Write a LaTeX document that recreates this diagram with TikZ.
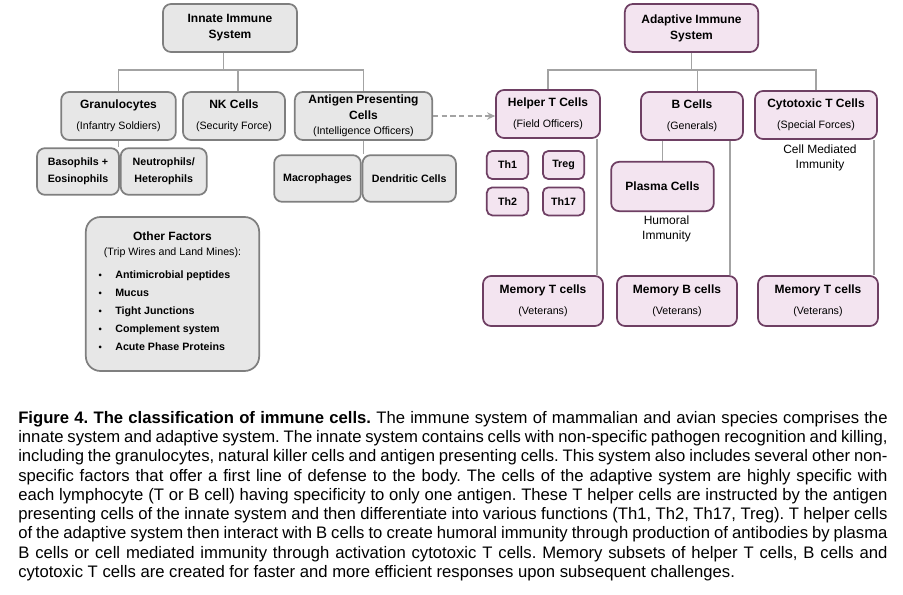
\documentclass[tikz,border=0pt]{standalone}
\usepackage{fontspec}
\setmainfont{Liberation Sans}
\usepackage{xcolor}
\usepackage{tikz}
\usetikzlibrary{shapes,arrows.meta,positioning,calc}

\definecolor{innfill}{HTML}{E7E7E7}
\definecolor{innline}{HTML}{7F7F7F}
\definecolor{adafill}{HTML}{F3E4F0}
\definecolor{adaline}{HTML}{6E3F63}
\definecolor{linkgray}{HTML}{A3A3A3}
\newcommand{\subtxt}[1]{{\fontsize{8}{10}\selectfont\mdseries #1}}

\begin{document}
\begin{tikzpicture}[x=0.75pt, y=-0.75pt, >={Stealth[length=6pt,width=5.5pt]}]
    \tikzstyle{innbox} = [rectangle, rounded corners=6pt, draw=innline, fill=innfill, line width=1.3pt, align=center, inner sep=1pt, font=\bfseries\fontsize{9}{12}\selectfont]
    \tikzstyle{adabox} = [innbox, draw=adaline, fill=adafill]
    \tikzstyle{thbox} = [adabox, rounded corners=4pt, minimum width=31pt, minimum height=21pt, font=\bfseries\fontsize{8}{10}\selectfont]
    \tikzstyle{note} = [align=center, font=\fontsize{9}{11.5}\selectfont]
    \tikzstyle{link} = [draw=linkgray, line width=1.2pt]
    \tikzstyle{dasharrow} = [linkgray, line width=1.2pt, dash pattern=on 4pt off 2.5pt, ->]

    \useasboundingbox (0,0) rectangle (903,595);

    % innate side
    \node (inn) [innbox, minimum width=100.5pt, minimum height=36pt] at (230,28) {Innate Immune\\System};
    \node (gran) [innbox, minimum width=86pt, minimum height=36pt] at (118.5,116) {Granulocytes\\[4pt]\subtxt{(Infantry Soldiers)}};
    \node (nk) [innbox, minimum width=76.5pt, minimum height=36pt] at (234,116) {NK Cells\\[4pt]\subtxt{(Security Force)}};
    \node (apc) [innbox, minimum width=103pt, minimum height=36pt] at (363.5,116) {Antigen Presenting\\Cells\\[-1pt]\subtxt{(Intelligence Officers)}};
    \node (baso) [innbox, minimum width=61.5pt, minimum height=35pt, font=\bfseries\fontsize{8}{13}\selectfont] at (78,171.5) {Basophils +\\Eosinophils};
    \node (neut) [innbox, minimum width=64.5pt, minimum height=35pt, font=\bfseries\fontsize{8}{13}\selectfont, right=0pt of baso] {Neutrophils/\\Heterophils};
    \node (macro) [innbox, minimum width=65pt, minimum height=35pt, font=\bfseries\fontsize{8}{10}\selectfont] at (317.5,178.5) {Macrophages};
    \node (dend) [innbox, minimum width=70pt, minimum height=35pt, font=\bfseries\fontsize{8}{10}\selectfont, right=0pt of macro] {Dendritic Cells};
    \node (other) [innbox, rounded corners=11pt, minimum width=130pt, minimum height=115.5pt] at (172.5,294) {%
        Other Factors\\[-1pt]\subtxt{(Trip Wires and Land Mines):}\\[5pt]
        {\fontsize{8}{13.5}\selectfont
        \begin{tabular}{@{}l@{\hspace{10pt}}l@{}}
            {\scriptsize\textbullet} & Antimicrobial peptides\\
            {\scriptsize\textbullet} & Mucus\\
            {\scriptsize\textbullet} & Tight Junctions\\
            {\scriptsize\textbullet} & Complement system\\
            {\scriptsize\textbullet} & Acute Phase Proteins
        \end{tabular}\rule{12pt}{0pt}}};

    % adaptive side
    \node (adap) [adabox, minimum width=100pt, minimum height=36pt] at (691.5,28) {Adaptive Immune\\System};
    \node (helper) [adabox, minimum width=78pt, minimum height=36pt] at (548,114) {Helper T Cells\\[4pt]\subtxt{(Field Officers)}};
    \node (bcell) [adabox, minimum width=76.5pt, minimum height=36pt] at (692,116) {B Cells\\[4pt]\subtxt{(Generals)}};
    \node (cyto) [adabox, minimum width=91.5pt, minimum height=36pt] at (816,115) {Cytotoxic T Cells\\[4pt]\subtxt{(Special Forces)}};
    \node (th1) [thbox] at (507.5,165) {Th1};
    \node (treg) [thbox, right=9.75pt of th1] {Treg};
    \node (th2) [thbox, below=5pt of th1] {Th2};
    \node (th17) [thbox, right=9.75pt of th2] {Th17};
    \node (plasma) [adabox, minimum width=77pt, minimum height=37pt] at (662.5,186.5) {Plasma Cells};
    \node (hum) [note, below=-1pt of plasma, xshift=3pt] {Humoral\\Immunity};
    \node (cmi) [note, below=0pt of cyto, xshift=3pt] {Cell Mediated\\Immunity};
    \node (memt) [adabox, minimum width=90pt, minimum height=37.5pt] at (543,301) {Memory T cells\\[4pt]\subtxt{(Veterans)}};
    \node (memb) [adabox, minimum width=90pt, minimum height=37.5pt] at (677,301) {Memory B cells\\[4pt]\subtxt{(Veterans)}};
    \node (memc) [adabox, minimum width=90pt, minimum height=37.5pt] at (818,301) {Memory T cells\\[4pt]\subtxt{(Veterans)}};

    % connectors
    \coordinate (ibus) at (223,70);
    \coordinate (abus) at (692,70);
    \draw [link] ([xshift=-5pt]inn.south) -- ([xshift=-5pt]inn.south |- ibus);
    \draw [link] (gran.north) |- (ibus) -| (apc.north);
    \draw [link] ([xshift=3pt]nk.north) -- ([xshift=3pt]nk.north |- ibus);
    \draw [link] (gran.south) -- (gran.south |- baso.north);
    \draw [link] (apc.south) -- (apc.south |- macro.north);
    \draw [link] (adap.south) -- (adap.south |- abus);
    \draw [link] (helper.north) |- (abus) -| (cyto.north);
    \draw [link] ([xshift=4pt]bcell.north) -- ([xshift=4pt]bcell.north |- abus);
    \draw [link] (plasma.north) -- (plasma.north |- bcell.south);
    \draw [link] ([xshift=-3pt]helper.south east) -- ([xshift=-3pt]helper.south east |- memt.north);
    \draw [link] ([xshift=-10.5pt]bcell.south east) -- ([xshift=-10.5pt]bcell.south east |- memb.north);
    \draw [link] ([xshift=-3pt]cyto.south east) -- ([xshift=-3pt]cyto.south east |- memc.north);
    \draw [dasharrow] (apc.east) -- (apc.east -| helper.west);

    % caption
    \node (cap) [anchor=north west, text width=652pt, align=justify, inner sep=0pt, font=\frenchspacing\fontsize{12.5}{14.45}\selectfont] at (18,411) {%
        \textbf{Figure 4. The classification of immune cells.} The immune system of mammalian and avian species comprises the\linebreak
        innate system and adaptive system. The innate system contains cells with non-specific pathogen recognition and killing,\linebreak
        including the granulocytes, natural killer cells and antigen presenting cells. This system also includes several other non-\linebreak
        specific factors that offer a first line of defense to the body. The cells of the adaptive system are highly specific with\linebreak
        each lymphocyte (T or B cell) having specificity to only one antigen. These T helper cells are instructed by the antigen\linebreak
        presenting cells of the innate system and then differentiate into various functions (Th1, Th2, Th17, Treg). T helper cells\linebreak
        of the adaptive system then interact with B cells to create humoral immunity through production of antibodies by plasma\linebreak
        B cells or cell mediated immunity through activation cytotoxic T cells. Memory subsets of helper T cells, B cells and\linebreak
        cytotoxic T cells are created for faster and more efficient responses upon subsequent challenges.};
\end{tikzpicture}
\end{document}
